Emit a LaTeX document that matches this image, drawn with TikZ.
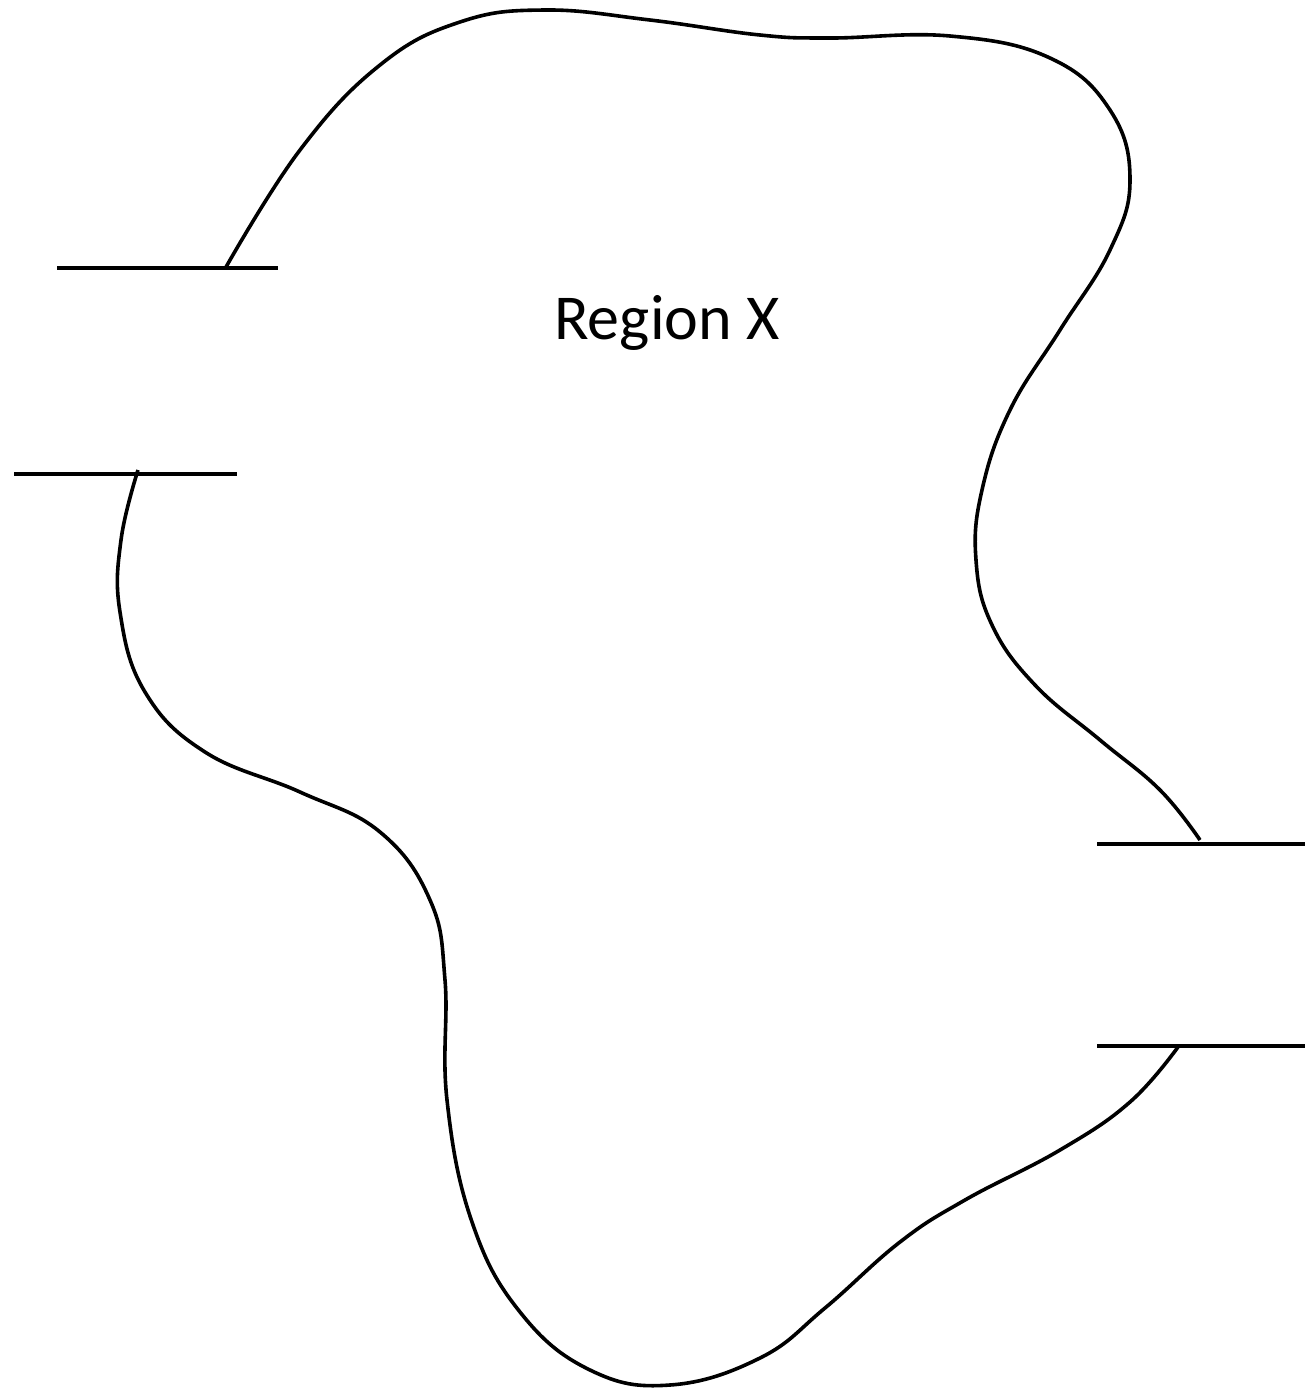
\documentclass[tikz,border=0pt]{standalone}
\usepackage{fontspec}
\setmainfont{Carlito}
\begin{document}
\begin{tikzpicture}[x=0.5pt,y=-0.5pt,
  outline/.style={line width=1.8pt,line join=round},
  port/.style={line width=1.8pt}]
\useasboundingbox (0,0) rectangle (1305,1388);
% ports
\coordinate (p1a) at (57,268); \coordinate (p1b) at (278,268);
\coordinate (p2a) at (14,474); \coordinate (p2b) at (237,474);
\coordinate (p3a) at (1097,844); \coordinate (p3b) at (1305,844);
\coordinate (p4a) at (1097,1046); \coordinate (p4b) at (1305,1046);
\draw[port] (p1a) -- (p1b);
\draw[port] (p2a) -- (p2b);
\draw[port] (p3a) -- (p3b);
\draw[port] (p4a) -- (p4b);
% upper boundary
\draw[outline] plot[smooth,tension=0.7] coordinates {
 (226,267) (300,150) (380,65) (460,22) (545,10) (650,20) (760,35) (830,38)
 (950,36) (1050,58) (1110,110) (1130,180) (1110,250) (1060,330) (1010,410)
 (982,490) (976,560) (992,625) (1035,685) (1100,740) (1160,790) (1200,840)};
% lower boundary
\draw[outline] plot[smooth,tension=0.7] coordinates {
 (1178,1047) (1130,1102) (1060,1150) (965,1200) (900,1242) (825,1308)
 (760,1358) (670,1385) (590,1370) (520,1312) (472,1222) (447,1100)
 (445,980) (430,900) (380,832) (300,792) (205,752) (145,692) (120,612)
 (121,540) (138,470)};
\node[font=\fontsize{32}{37}\selectfont] (label) at (667,323) {Region X};
\end{tikzpicture}
\end{document}
